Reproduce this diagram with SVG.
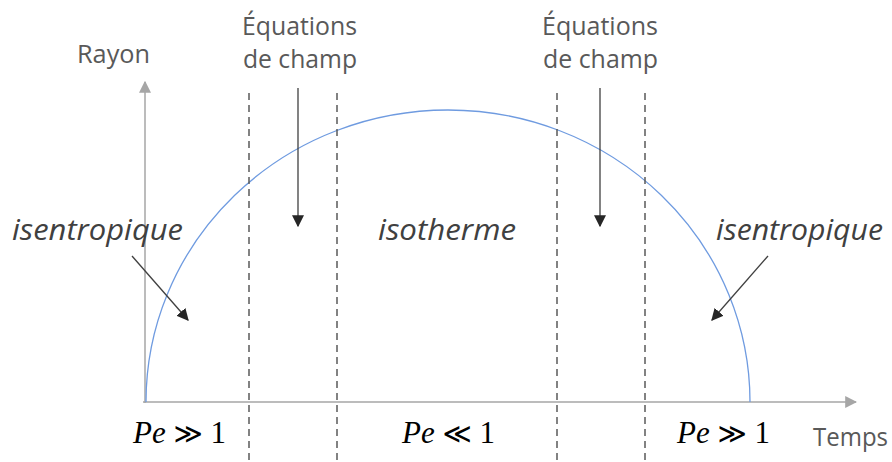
<svg xmlns="http://www.w3.org/2000/svg" width="892" height="462" viewBox="0 0 892 462">
<defs>
<style>
.lbl{font-family:"Open Sans","Liberation Sans",sans-serif;fill:#595959;font-size:25.5px}
.it{font-family:"Open Sans","Liberation Sans",sans-serif;font-style:italic;fill:#404040;font-size:30px}
.pe{font-family:"Liberation Serif","DejaVu Serif",serif;fill:#000;font-size:31px}
.rel{font-family:"DejaVu Sans",sans-serif;font-size:28px}
.axis{stroke:#a6a6a6;stroke-width:1.5;fill:none}
.dash{stroke:#595959;stroke-width:1.5;stroke-dasharray:7,5;fill:none}
.arr{stroke:#404040;stroke-width:1.3;fill:none;marker-end:url(#ah)}
</style>
<marker id="ah" viewBox="0 0 10 10" refX="9" refY="5" markerWidth="12" markerHeight="12" markerUnits="userSpaceOnUse" orient="auto">
<path d="M0,0 L10,5 L0,10 z" fill="#262626"/>
</marker>
<marker id="axh" viewBox="0 0 10 10" refX="9" refY="5" markerWidth="12" markerHeight="12" markerUnits="userSpaceOnUse" orient="auto">
<path d="M0,0 L10,5 L0,10 z" fill="#a6a6a6"/>
</marker>
</defs>
<rect width="892" height="462" fill="#fff"/>
<g id="axes">
<line class="axis" x1="145" y1="403" x2="145" y2="82" marker-end="url(#axh)"/>
<line class="axis" x1="143" y1="402" x2="856" y2="402" marker-end="url(#axh)"/>
<text class="lbl" x="77" y="63" textLength="73" lengthAdjust="spacingAndGlyphs">Rayon</text>
<text class="lbl" x="813" y="446" textLength="75" lengthAdjust="spacingAndGlyphs">Temps</text>
</g>
<g id="curve">
<path d="M146,402 A302,292 0 0 1 750,402" fill="none" stroke="#6f9be0" stroke-width="1.3"/>
</g>
<g id="dashes">
<line class="dash" x1="249" y1="93" x2="249" y2="462"/>
<line class="dash" x1="337" y1="93" x2="337" y2="462"/>
<line class="dash" x1="557" y1="93" x2="557" y2="462"/>
<line class="dash" x1="645" y1="93" x2="645" y2="462"/>
</g>
<g id="field-left">
<text class="lbl" x="242" y="35" textLength="115" lengthAdjust="spacingAndGlyphs">Équations</text>
<text class="lbl" x="243" y="68" textLength="114" lengthAdjust="spacingAndGlyphs">de champ</text>
</g>
<g id="field-right">
<text class="lbl" x="542" y="35" textLength="116" lengthAdjust="spacingAndGlyphs">Équations</text>
<text class="lbl" x="543" y="68" textLength="115" lengthAdjust="spacingAndGlyphs">de champ</text>
</g>
<g id="isentropique-left">
<text class="it" x="12" y="240" textLength="171" lengthAdjust="spacingAndGlyphs">isentropique</text>
</g>
<g id="isotherme">
<text class="it" x="378" y="240" textLength="138" lengthAdjust="spacingAndGlyphs">isotherme</text>
</g>
<g id="isentropique-right">
<text class="it" x="716" y="240" textLength="167" lengthAdjust="spacingAndGlyphs">isentropique</text>
</g>
<g id="connectors">
<line class="arr" x1="298" y1="88" x2="298" y2="226"/>
<line class="arr" x1="600" y1="88" x2="600" y2="226"/>
<line class="arr" x1="132" y1="256" x2="188" y2="320"/>
<line class="arr" x1="768" y1="256" x2="712" y2="320"/>
</g>
<g id="peclet">
<text class="pe" x="133" y="443"><tspan font-style="italic">Pe</tspan> <tspan class="rel">≫</tspan> 1</text>
<text class="pe" x="402" y="443"><tspan font-style="italic">Pe</tspan> <tspan class="rel">≪</tspan> 1</text>
<text class="pe" x="677" y="443"><tspan font-style="italic">Pe</tspan> <tspan class="rel">≫</tspan> 1</text>
</g>
</svg>
